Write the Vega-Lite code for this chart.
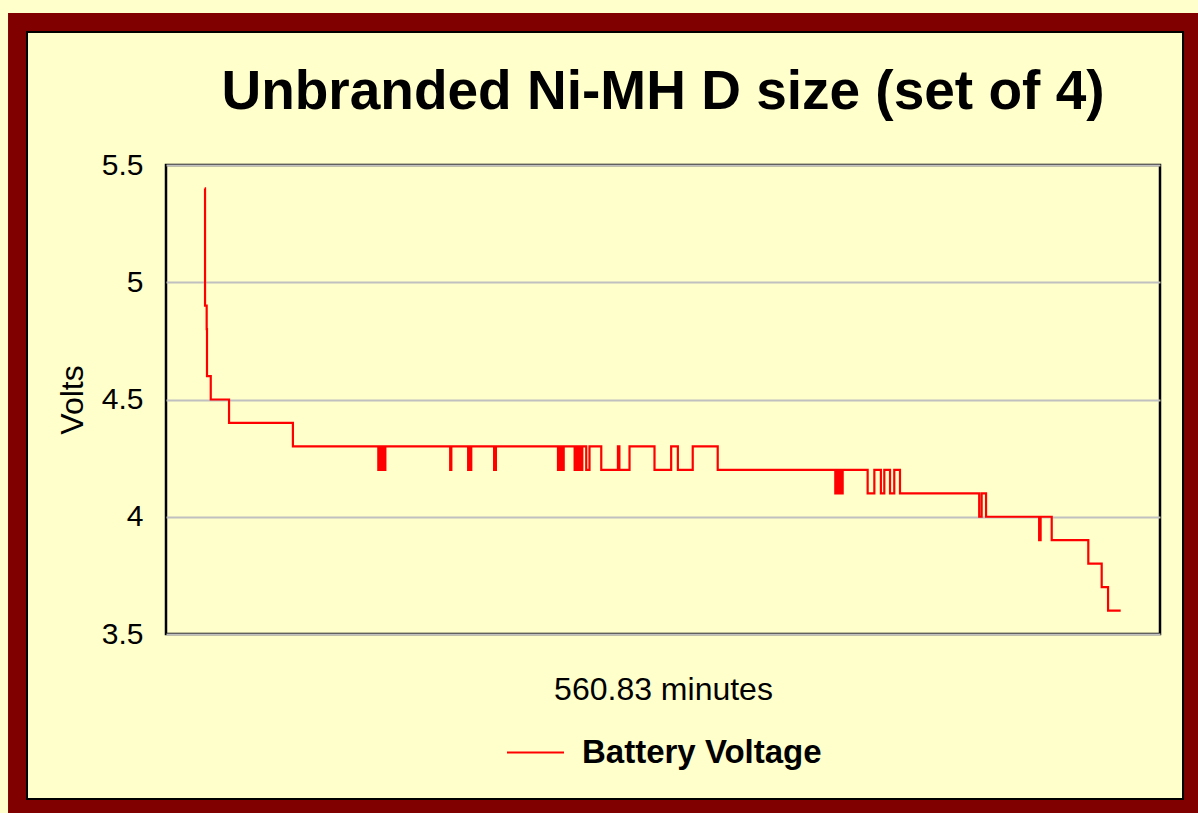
{
  "$schema": "https://vega.github.io/schema/vega-lite/v6.json",
  "width": 994,
  "height": 469,
  "autosize": {"type": "none"},
  "padding": {"left": 166, "top": 165, "right": 38, "bottom": 179},
  "background": "#FFFFCC",
  "title": {
    "text": "Unbranded Ni-MH D size (set of 4)",
    "font": "Liberation Sans",
    "fontSize": 55,
    "fontWeight": "bold",
    "color": "#000000",
    "anchor": "middle",
    "baseline": "bottom",
    "offset": -163
  },
  "config": {
    "view": {"stroke": "#000000", "strokeWidth": 2.5, "fill": null}
  },
  "data": {
    "values": [
      {"t": 0, "v": 5.4}, {"t": 0.2, "v": 4.9}, {"t": 1.2, "v": 4.8}, {"t": 1.4, "v": 4.6},
      {"t": 3.7, "v": 4.5}, {"t": 14.9, "v": 4.4}, {"t": 54.0, "v": 4.3},
      {"t": 106.3, "v": 4.2}, {"t": 106.9, "v": 4.3}, {"t": 107.5, "v": 4.2}, {"t": 108.1, "v": 4.3},
      {"t": 108.7, "v": 4.2}, {"t": 109.3, "v": 4.3}, {"t": 110.0, "v": 4.2}, {"t": 110.6, "v": 4.3},
      {"t": 150.3, "v": 4.2}, {"t": 151.0, "v": 4.3},
      {"t": 161.3, "v": 4.2}, {"t": 162.0, "v": 4.3}, {"t": 162.5, "v": 4.2}, {"t": 163.2, "v": 4.3},
      {"t": 177.2, "v": 4.2}, {"t": 178.3, "v": 4.3},
      {"t": 216.3, "v": 4.2}, {"t": 216.9, "v": 4.3}, {"t": 217.5, "v": 4.2}, {"t": 218.1, "v": 4.3},
      {"t": 218.7, "v": 4.2}, {"t": 219.8, "v": 4.3},
      {"t": 226.5, "v": 4.2}, {"t": 227.1, "v": 4.3}, {"t": 227.8, "v": 4.2}, {"t": 228.5, "v": 4.3},
      {"t": 229.1, "v": 4.2}, {"t": 229.7, "v": 4.3}, {"t": 230.5, "v": 4.2}, {"t": 231.2, "v": 4.3},
      {"t": 233.6, "v": 4.2}, {"t": 235.6, "v": 4.3},
      {"t": 242.8, "v": 4.2}, {"t": 253.0, "v": 4.3}, {"t": 253.9, "v": 4.2}, {"t": 260.1, "v": 4.3},
      {"t": 275.4, "v": 4.2}, {"t": 285.6, "v": 4.3}, {"t": 289.7, "v": 4.2}, {"t": 298.8, "v": 4.3},
      {"t": 314.1, "v": 4.2},
      {"t": 386.1, "v": 4.1}, {"t": 386.8, "v": 4.2}, {"t": 387.5, "v": 4.1}, {"t": 388.2, "v": 4.2},
      {"t": 388.9, "v": 4.1}, {"t": 389.6, "v": 4.2}, {"t": 390.0, "v": 4.1}, {"t": 390.6, "v": 4.2},
      {"t": 405.9, "v": 4.1}, {"t": 410.0, "v": 4.2}, {"t": 414.0, "v": 4.1}, {"t": 416.1, "v": 4.2},
      {"t": 419.6, "v": 4.1}, {"t": 422.2, "v": 4.2}, {"t": 425.7, "v": 4.1},
      {"t": 474.2, "v": 4.0}, {"t": 475.7, "v": 4.1}, {"t": 478.4, "v": 4.0},
      {"t": 510.9, "v": 3.9}, {"t": 511.8, "v": 4.0}, {"t": 518.6, "v": 3.9},
      {"t": 541.0, "v": 3.8}, {"t": 549.2, "v": 3.7}, {"t": 553.1, "v": 3.6}, {"t": 560.83, "v": 3.6}
    ]
  },
  "layer": [
    {
      "data": {"values": [{}]},
      "mark": {"type": "rect", "fill": null, "stroke": "#800000", "strokeWidth": 19, "clip": false},
      "encoding": {
        "x": {"datum": -114.6, "type": "quantitative",
              "scale": {"domain": [-23.7, 584.9], "nice": false, "zero": false},
              "axis": {"labels": false, "ticks": false, "domain": false, "grid": false,
                       "title": "560.83 minutes", "titleFont": "Liberation Sans", "titleFontSize": 32,
                       "titleFontWeight": "normal", "titleColor": "#000000", "titlePadding": 40}},
        "x2": {"datum": 604.8},
        "y": {"datum": 6.108, "type": "quantitative",
              "scale": {"domain": [3.5, 5.5], "nice": false, "zero": false},
              "axis": {"values": [3.5, 4, 4.5, 5, 5.5], "format": "~g", "ticks": false, "domain": false,
                       "grid": true, "gridColor": "#C0C0C0", "gridWidth": 2,
                       "labelFont": "Liberation Sans", "labelFontSize": 30,
                       "labelColor": "#000000", "labelPadding": 23,
                       "title": "Volts", "titleFont": "Liberation Sans", "titleFontSize": 32,
                       "titleFontWeight": "normal", "titleColor": "#000000", "titlePadding": 12}},
        "y2": {"datum": 2.756}
      }
    },
    {
      "data": {"values": [{}]},
      "mark": {"type": "rect", "fill": null, "stroke": "#000000", "strokeWidth": 2, "clip": false},
      "encoding": {
        "x": {"datum": -108.8, "type": "quantitative"},
        "x2": {"datum": 599.0},
        "y": {"datum": 6.067, "type": "quantitative"},
        "y2": {"datum": 2.796}
      }
    },
    {
      "mark": {"type": "line", "interpolate": "step-after", "strokeWidth": 2.2},
      "encoding": {
        "x": {"field": "t", "type": "quantitative",
              "scale": {"domain": [-23.7, 584.9], "nice": false, "zero": false},
              "axis": {"labels": false, "ticks": false, "domain": false, "grid": false,
                       "title": "560.83 minutes", "titleFont": "Liberation Sans", "titleFontSize": 32,
                       "titleFontWeight": "normal", "titleColor": "#000000", "titlePadding": 40}},
        "y": {"field": "v", "type": "quantitative",
              "scale": {"domain": [3.5, 5.5], "nice": false, "zero": false},
              "axis": {"values": [3.5, 4, 4.5, 5, 5.5], "format": "~g", "ticks": false, "domain": false,
                       "grid": true, "gridColor": "#C0C0C0", "gridWidth": 2,
                       "labelFont": "Liberation Sans", "labelFontSize": 30,
                       "labelColor": "#000000", "labelPadding": 23,
                       "title": "Volts", "titleFont": "Liberation Sans", "titleFontSize": 32,
                       "titleFontWeight": "normal", "titleColor": "#000000", "titlePadding": 12}},
        "color": {"datum": "Battery Voltage", "type": "nominal",
                  "scale": {"range": ["#FF0000"]},
                  "legend": {"orient": "none", "legendX": 340, "legendY": 558, "title": null,
                             "symbolType": "stroke", "symbolSize": 3249, "symbolStrokeWidth": 2,
                             "labelFont": "Liberation Sans", "labelFontWeight": "bold", "labelFontSize": 33,
                             "labelLimit": 500,
                             "labelColor": "#000000", "labelOffset": 17, "padding": 0}}
      }
    }
  ]
}
